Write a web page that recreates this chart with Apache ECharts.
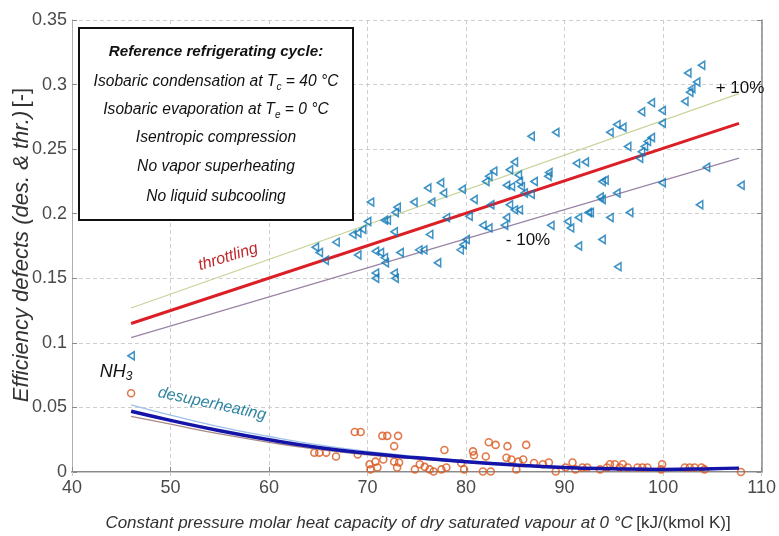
<!DOCTYPE html>
<html><head><meta charset="utf-8">
<script src="https://cdn.jsdelivr.net/npm/echarts@6/dist/echarts.min.js"></script>
<style>html,body{margin:0;padding:0;background:#fff}#c{width:779px;height:536px}</style>
</head><body><div id="c"></div>
<script>
// ---- data ----
const xTickLabels = ['40','50','60','70','80','90','100','110'];
const yTickLabels = ['0','0.05','0.1','0.15','0.2','0.25','0.3','0.35'];

// throttling correlation and +/-10 % band
const throttleX   = [46, 107.7];
const throttleY   = [0.115, 0.270];
const plus10Y     = [0.127, 0.293];
const minus10Y    = [0.104, 0.243];

// desuperheating correlation and its band
const desupX      = [46, 50, 55, 60, 65, 70, 75, 80, 85, 90, 95, 100, 105, 107.7];
const desupY      = [0.047, 0.040, 0.032, 0.025, 0.019, 0.0145, 0.011, 0.008, 0.0055, 0.0035, 0.0025, 0.002, 0.0025, 0.003];
const desupHighY  = [0.052, 0.044, 0.035, 0.0275, 0.021, 0.016, 0.012, 0.0088, 0.006, 0.0039, 0.0028, 0.0022, 0.0028, 0.0033];
const desupLowY   = [0.043, 0.037, 0.0295, 0.023, 0.0175, 0.0133, 0.0101, 0.0074, 0.0051, 0.0032, 0.0023, 0.0018, 0.0023, 0.0027];

// throttling defects (triangles)
const throttlingPts = [
 [46.0,0.090],
 [64.7,0.174],[65.1,0.170],[65.7,0.164],[66.8,0.178],[68.5,0.184],[69.0,0.185],[69.5,0.188],[70.0,0.194],[70.3,0.209],
 [69.0,0.168],[70.8,0.171],[71.3,0.170],[71.7,0.166],[71.8,0.162],[70.8,0.154],[70.8,0.150],[72.7,0.154],[72.8,0.150],[73.3,0.170],
 [72.7,0.186],[71.7,0.195],[72.0,0.195],[72.8,0.201],[73.0,0.205],[74.7,0.209],[76.5,0.209],[76.1,0.220],[77.4,0.224],[77.7,0.216],[79.6,0.219],
 [75.2,0.172],[75.7,0.172],[76.3,0.184],[77.1,0.162],[78.0,0.197],[79.4,0.172],
 [86.6,0.260],[89.1,0.263],[91.2,0.239],[92.1,0.240],[84.9,0.240],[84.4,0.234],[82.8,0.233],[82.3,0.229],[82.0,0.225],[85.3,0.230],[85.4,0.225],
 [84.1,0.222],[84.6,0.221],[85.6,0.221],[86.9,0.225],[88.4,0.232],[88.3,0.229],[85.9,0.216],[86.6,0.215],
 [80.8,0.211],[82.5,0.207],[80.3,0.198],[84.4,0.207],[84.1,0.197],[84.9,0.203],[85.4,0.203],[83.9,0.191],[81.7,0.191],[82.3,0.189],
 [88.6,0.191],[90.3,0.194],[90.6,0.189],[91.4,0.197],[92.6,0.201],[93.8,0.211],[93.8,0.225],[80.0,0.180],[79.7,0.176],[91.4,0.175],[93.8,0.180],
 [103.9,0.315],[102.5,0.309],[103.4,0.302],[102.9,0.297],[102.7,0.294],[102.2,0.287],[98.8,0.286],[97.8,0.279],[99.9,0.280],[99.9,0.270],
 [94.6,0.263],[95.3,0.269],[95.9,0.267],[96.4,0.252],[98.8,0.259],[98.4,0.256],[98.1,0.252],[97.8,0.248],[97.6,0.243],[94.1,0.226],
 [99.9,0.224],[104.4,0.236],[107.9,0.222],[95.3,0.216],[93.6,0.213],[103.7,0.207],[96.6,0.201],[92.4,0.201],[94.6,0.197],[95.4,0.159]
];

// desuperheating defects (circles)
const desupPts = [
 [46.0,0.061],
 [64.6,0.015],[65.1,0.015],[65.8,0.015],[66.8,0.012],[68.7,0.031],[69.3,0.031],[69.0,0.0135],[70.2,0.006],[70.3,0.002],[70.8,0.008],
 [71.5,0.028],[72.0,0.028],[73.1,0.028],[72.7,0.020],[71.0,0.0035],[71.6,0.0097],[72.7,0.008],[73.0,0.0035],[73.2,0.0073],[74.8,0.002],
 [75.3,0.006],[75.8,0.004],[76.3,0.002],[76.7,0.0004],[77.5,0.002],[77.8,0.017],[78.0,0.0035],[79.5,0.007],[79.8,0.002],[80.7,0.016],
 [80.8,0.013],[82.0,0.012],[81.7,0.0004],[82.5,0.0004],[82.3,0.023],[83.0,0.021],[84.2,0.020],[84.1,0.011],[84.6,0.0097],[85.3,0.008],
 [85.1,0.002],[85.8,0.0097],[86.1,0.021],[86.9,0.007],[87.8,0.006],
 [88.4,0.0073],[89.1,0.0004],[90.1,0.0035],[90.8,0.0073],[91.1,0.002],[91.8,0.0035],[92.3,0.0035],[93.6,0.002],[94.3,0.0035],[94.6,0.006],
 [95.1,0.006],[95.6,0.0035],[95.9,0.006],[96.4,0.0035],[97.4,0.0035],[97.9,0.0035],[98.4,0.0035],[99.8,0.002],[99.9,0.006],[102.2,0.0035],
 [102.7,0.0035],[103.2,0.0035],[103.9,0.0035],[104.2,0.002],[107.9,0.000]
];

// ---- chart ----
const zip = (xs, ys) => xs.map((x, i) => [x, ys[i]]);
const chart = echarts.init(document.getElementById('c'), null, {renderer: 'canvas'});
const sans = "'Liberation Sans',Arial,sans-serif";
const tickFont = {fontFamily: sans, fontSize: 18, color: '#4a4a4a'};
const gridLine = {show: true, lineStyle: {color: '#cfcfcf', type: [4, 3], width: 1}};
const boxIt = 'italic 15.6px ' + sans;
const subIt = 'italic 10px ' + sans;

const option = {
  animation: false,
  backgroundColor: '#fff',
  grid: {left: 72, right: 11, top: 20, bottom: 64},
  xAxis: [{
    type: 'value', min: 40, max: 110, interval: 10,
    axisLine: {show: true, lineStyle: {color: '#8a8a8a', width: 2}},
    axisTick: {show: true, inside: true, length: 5, lineStyle: {color: '#8a8a8a'}},
    axisLabel: Object.assign({margin: 7, formatter: v => xTickLabels[Math.round((v - 40) / 10)]}, tickFont),
    splitLine: gridLine
  }, {
    type: 'value', min: 40, max: 110, interval: 10, position: 'top',
    axisLine: {show: true, lineStyle: {color: '#c8c8c8', width: 1}},
    axisTick: {show: true, inside: true, length: 4, lineStyle: {color: '#c8c8c8'}},
    axisLabel: {show: false}, splitLine: {show: false}
  }],
  yAxis: [{
    type: 'value', min: 0, max: 0.35, interval: 0.05,
    axisLine: {show: true, lineStyle: {color: '#b0b0b0', width: 1}},
    axisTick: {show: true, inside: true, length: 5, lineStyle: {color: '#8a8a8a'}},
    axisLabel: Object.assign({margin: 5, formatter: v => yTickLabels[Math.round(v / 0.05)]}, tickFont),
    splitLine: gridLine
  }, {
    type: 'value', min: 0, max: 0.35, interval: 0.05, position: 'right',
    axisLine: {show: true, lineStyle: {color: '#8a8a8a', width: 1.5}},
    axisTick: {show: true, inside: true, length: 5, lineStyle: {color: '#8a8a8a'}},
    axisLabel: {show: false}, splitLine: {show: false}
  }],
  series: [
    {type: 'line', data: zip(throttleX, plus10Y), symbol: 'none', z: 2, lineStyle: {color: '#c7d49b', width: 1.3}},
    {type: 'line', data: zip(throttleX, minus10Y), symbol: 'none', z: 2, lineStyle: {color: '#9a84a6', width: 1.3}},
    {type: 'line', data: zip(throttleX, throttleY), symbol: 'none', z: 2, lineStyle: {color: '#dc1f26', width: 3}},
    {type: 'scatter', data: throttlingPts, z: 3, symbol: 'path://M0,5L9,0L9,10Z', symbolKeepAspect: true, symbolSize: [7, 8],
     itemStyle: {color: 'rgba(255,255,255,0)', borderColor: '#0f78b7', borderWidth: 1.6}},
    {type: 'scatter', data: desupPts, z: 2, symbol: 'circle', symbolSize: 7,
     itemStyle: {color: 'rgba(255,255,255,0)', borderColor: '#d9581e', borderWidth: 1.6}},
    {type: 'line', data: zip(desupX, desupHighY), smooth: true, symbol: 'none', z: 4, lineStyle: {color: '#9dc1ea', width: 1.3}},
    {type: 'line', data: zip(desupX, desupLowY), smooth: true, symbol: 'none', z: 4, lineStyle: {color: '#a88a86', width: 1.3}},
    {type: 'line', data: zip(desupX, desupY), smooth: true, symbol: 'none', z: 5, lineStyle: {color: '#1414a8', width: 3.5}}
  ],
  graphic: [
    {type: 'rect', z: 100, shape: {x: 79, y: 28, width: 274, height: 192},
     style: {fill: '#fff', stroke: '#111', lineWidth: 2}},
    {type: 'text', z: 101, x: 216, y: 52, style: {text: 'Reference refrigerating cycle:', font: 'italic bold 15.2px ' + sans, fill: '#111', align: 'center', verticalAlign: 'middle'}},
    {type: 'text', z: 101, x: 216, y: 82, style: {
      text: '{a|Isobaric condensation at T}{s|c}{a| = 40 °C}', align: 'center', verticalAlign: 'middle',
      rich: {a: {font: boxIt, fill: '#111', lineHeight: 20}, s: {font: subIt, fill: '#111', lineHeight: 20, verticalAlign: 'bottom', padding: [8, 0, 0, 0]}}}},
    {type: 'text', z: 101, x: 216, y: 110, style: {
      text: '{a|Isobaric evaporation at T}{s|e}{a| = 0 °C}', align: 'center', verticalAlign: 'middle',
      rich: {a: {font: boxIt, fill: '#111', lineHeight: 20}, s: {font: subIt, fill: '#111', lineHeight: 20, verticalAlign: 'bottom', padding: [8, 0, 0, 0]}}}},
    {type: 'text', z: 101, x: 216, y: 138, style: {text: 'Isentropic compression', font: boxIt, fill: '#111', align: 'center', verticalAlign: 'middle'}},
    {type: 'text', z: 101, x: 216, y: 167, style: {text: 'No vapor superheating', font: boxIt, fill: '#111', align: 'center', verticalAlign: 'middle'}},
    {type: 'text', z: 101, x: 216, y: 197, style: {text: 'No liquid subcooling', font: boxIt, fill: '#111', align: 'center', verticalAlign: 'middle'}},
    // annotations
    {type: 'text', z: 50, x: 228, y: 257, rotation: 0.30, style: {text: 'throttling', font: 'italic 16px ' + sans, fill: '#c0272d', align: 'center', verticalAlign: 'middle'}},
    {type: 'text', z: 50, x: 740, y: 88, style: {text: '+ 10%', font: '17px ' + sans, fill: '#111', align: 'center', verticalAlign: 'middle'}},
    {type: 'text', z: 50, x: 528, y: 240, style: {text: '- 10%', font: '17px ' + sans, fill: '#111', align: 'center', verticalAlign: 'middle'}},
    {type: 'text', z: 50, x: 212, y: 404, rotation: -0.21, style: {text: 'desuperheating', font: 'italic 16px ' + sans, fill: '#2f86a3', align: 'center', verticalAlign: 'middle'}},
    {type: 'text', z: 50, x: 116, y: 372, style: {
      text: '{a|NH}{s|3}', align: 'center', verticalAlign: 'middle',
      rich: {a: {font: 'italic 18px ' + sans, fill: '#111', lineHeight: 22}, s: {font: 'italic 12px ' + sans, fill: '#111', lineHeight: 22, verticalAlign: 'bottom', padding: [10, 0, 0, 0]}}}},
    // axis titles
    {type: 'text', z: 50, x: 22, y: 245, rotation: Math.PI / 2, style: {
      text: '{a|Efficiency defects (des. & thr.)} {b|[-]}', align: 'center', verticalAlign: 'middle',
      rich: {a: {font: 'italic 22px ' + sans, fill: '#333'}, b: {font: '22px ' + sans, fill: '#333'}}}},
    {type: 'text', z: 50, x: 418, y: 523, style: {
      text: '{a|Constant pressure molar heat capacity of dry saturated vapour at 0 °C} {b|[kJ/(kmol K)]}', align: 'center', verticalAlign: 'middle',
      rich: {a: {font: 'italic 17px ' + sans, fill: '#333'}, b: {font: '17px ' + sans, fill: '#333'}}}}
  ]
};
chart.setOption(option);
</script>
</body></html>
